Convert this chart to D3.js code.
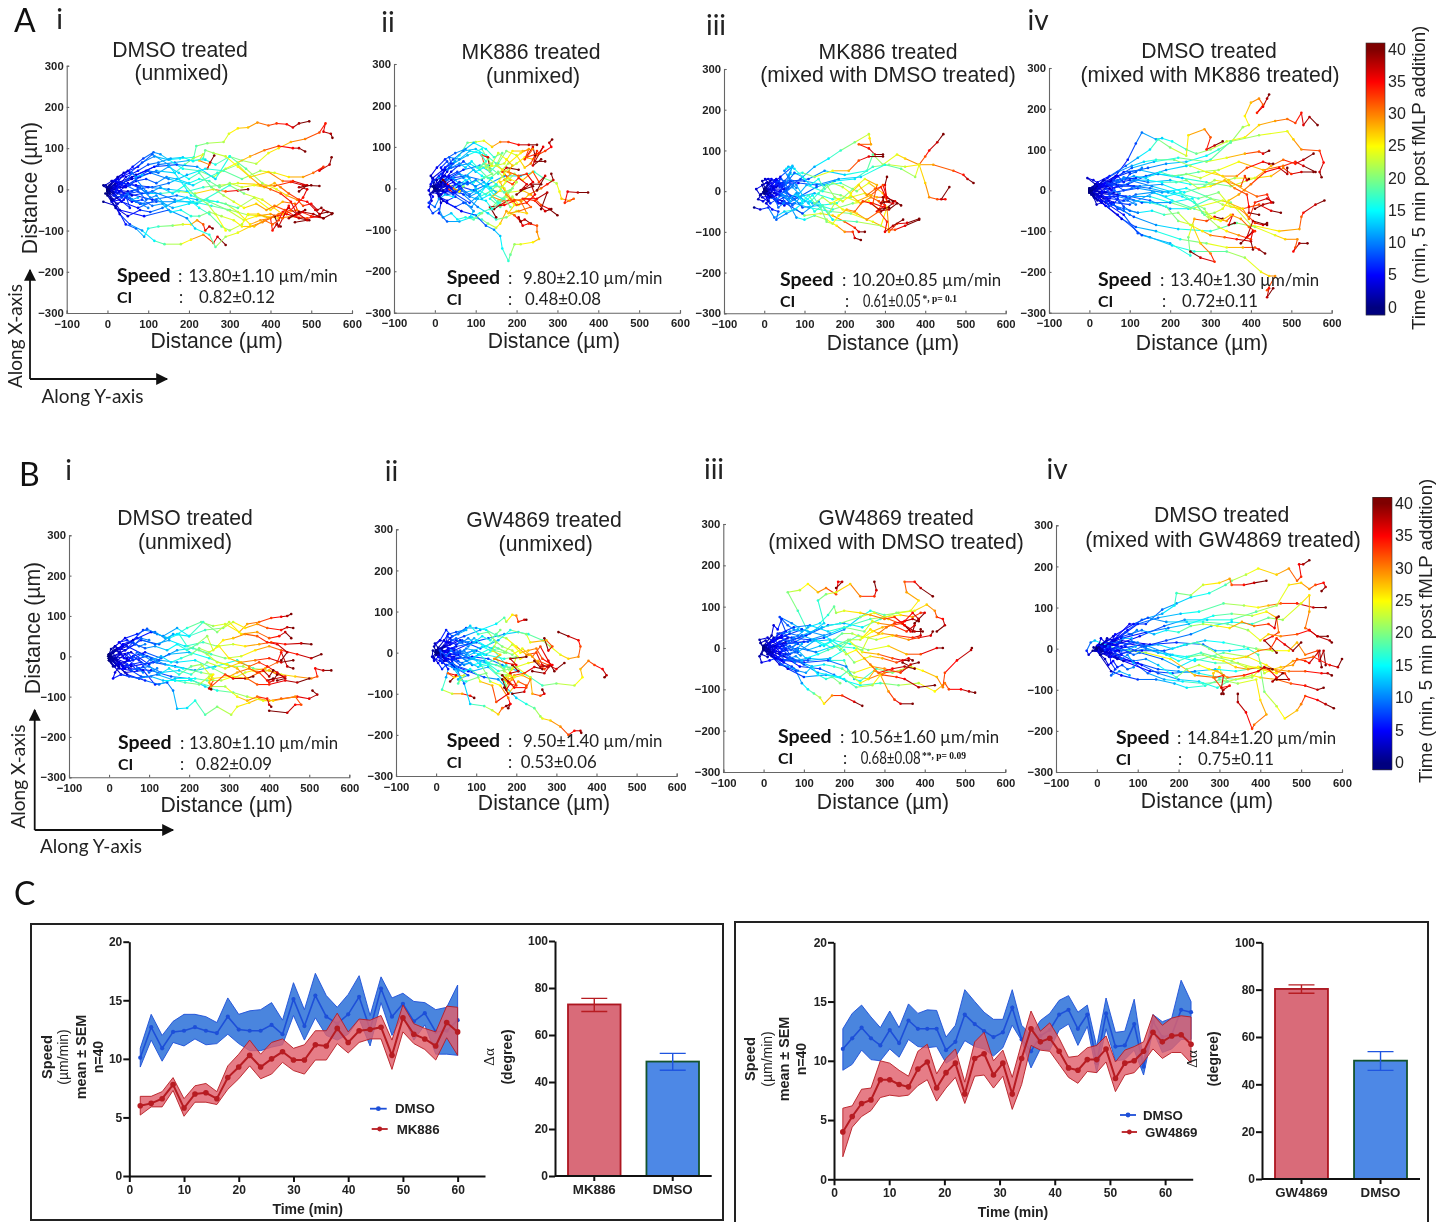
<!DOCTYPE html>
<html>
<head>
<meta charset="utf-8">
<script src="https://cdn.jsdelivr.net/npm/d3@7"></script>
<style>
  html, body { margin: 0; background: #fff; }
  svg { display: block; filter: blur(0.5px); }
  .arial { font-family: "Liberation Sans", Arial, sans-serif; }
  .calibri { font-family: Lato, "Open Sans", sans-serif; }
</style>
</head>
<body>
<div id="figure"></div>
<script>
// track data: [end time, x0, y0, x1, y1, ...] in um
const tracksAi = [
  [40,0,0,18,12,38,32,62,55,88,75,113,90,130,85,150,72,178,75,212,78,218,105,245,112,285,115,298,135,320,148,345,150,368,162,395,155,415,160,440,158,455,150,470,160,495,165],
  [40,0,0,30,18,60,30,95,45,125,60,165,65,200,70,240,72,265,60,300,80,330,70,365,62,395,88,420,100,450,115,485,122,520,138,535,160,530,140,548,135,552,125],
  [40,0,5,25,25,55,40,85,65,115,80,150,72,185,50,225,45,260,30,290,50,320,65,350,80,385,95,420,105,455,100,470,100,485,92],
  [40,0,0,40,5,80,30,120,45,165,40,190,60,210,75,235,85,225,70,250,60,245,50,252,65,262,82],
  [40,0,-5,35,15,70,10,110,5,150,15,195,35,240,50,285,45,330,25,375,45,410,40,445,30,480,30,505,40,530,55,520,45,545,60,550,78],
  [40,5,0,50,-5,100,5,150,0,195,-5,235,5,275,10,320,15,370,12,410,8,450,18,480,10,520,8],
  [40,0,0,45,10,85,-10,130,-10,175,-5,215,-10,260,0,290,-5,320,-3,345,0],
  [40,0,0,40,-15,80,-35,120,-30,165,-30,210,-30,255,-40,300,-50,345,-62,385,-65,420,-70,455,-65,490,-70,520,-65,530,-50,552,-58],
  [40,0,-5,35,-30,75,-45,120,-25,160,-45,200,-35,245,-25,290,-35,320,-55,350,-85,375,-75,400,-70,405,-100,415,-85,425,-90],
  [40,-10,-30,20,-40,45,-85,70,-95,90,-115,100,-95,125,-90,160,-88,185,-85,205,-85,220,-75,235,-85,240,-100,250,-90,258,-95],
  [40,0,-10,30,-60,55,-85,85,-100,115,-125,140,-133,180,-133,205,-122,235,-110,260,-130,270,-115,290,-135],
  [40,5,-10,30,-50,90,-65,150,-50,195,-70,215,-95,250,-110,265,-140,290,-115,320,-105,350,-90,380,-80,410,-65,440,-60,470,-70,495,-75],
  [40,0,-5,50,-10,110,-25,170,-15,220,-25,270,-30,320,-45,360,-20,400,-50,430,-30,460,-35,470,-60,490,-75,460,-80],
  [40,5,5,60,-15,110,-5,165,-25,220,-35,300,10,335,-10,380,-25,430,-60,465,-50,500,-65,530,-70,550,-60],
  [40,10,0,70,35,115,55,170,60,220,55,265,25,300,80,340,50,380,15,415,0,440,-15,465,-25,480,-40,500,-35,515,-50,525,-45],
  [40,0,0,60,25,105,40,150,25,210,10,270,40,320,60,350,30,395,42,430,20,455,20,490,10,470,-5],
  [40,0,5,40,40,75,55,110,85,150,60,205,-15,250,-30,295,-50,335,-75,365,-65,400,-60,430,-70,445,-40,420,-90,410,-65],
  [40,0,0,20,15,45,5,70,20,95,25,120,15,145,30,170,25,200,15,225,25,250,20,275,5,300,15,330,5,360,10,385,5,410,15,425,5,445,-10,470,-25,490,-30,510,-50,520,-60,540,-55],
  [40,-5,-10,15,-25,35,-15,60,-30,85,-25,110,-40,135,-35,155,-55,180,-50,205,-65,225,-65,250,-55,280,-65,310,-75,330,-90,360,-90,385,-75,405,-85,420,-75,430,-55,445,-45,465,-60,485,-50],
  [40,5,10,25,30,50,45,75,30,100,45,125,40,150,55,175,40,200,25,225,40,255,5,285,-15,310,-30,335,-45,365,-35,390,-50,410,-40,435,-50,460,-65,480,-55,505,-60,530,-70],
  [40,0,-15,20,-45,50,-65,80,-50,105,-55,135,-45,165,-30,195,-20,225,-45,250,-60,280,-90,300,-100,330,-85,345,-60,370,-60,395,-70,420,-60,450,-50,480,-20,490,0,470,5,500,10],
  [25,5,0,25,-10,50,15,75,5,100,-10,130,5,160,-10,190,10,215,-15,245,-35,265,-60,290,-100],
  [40,0,5,25,5,45,30,75,45,100,60,125,65,155,75,185,78,210,68,235,75,240,95,260,88,290,80,320,55,350,30,375,10,400,0,425,-10,450,-30,465,-60,445,-70,470,-55],
  [10,0,0,15,-10,25,-20,10,-30,30,-25,55,-45,45,-15,70,-30,100,-45],
  [10,-5,10,15,0,30,5,20,20,40,15,55,10,70,25,95,-5],
  [10,5,-5,20,-15,10,-2,25,10,40,-10,60,-5,80,5,105,-20],
  [10,-10,10,5,5,12,20,30,15,20,-5,35,-15,60,-25,90,-35],
  [12,0,0,10,-25,25,-35,40,-25,55,-10,75,-5,95,-25,120,-15,145,-40],
  [12,0,0,8,12,20,8,28,-5,15,-15,35,-20,50,-10,60,-25,75,-20],
  [12,0,0,-8,8,10,20,25,25,35,12,50,25,60,40,70,30,85,35]
];
const tracksAii = [
  [40,0,0,-5,15,10,30,35,50,50,65,30,45,60,80,80,110,100,112,120,115,140,100,160,112,180,112,205,105,230,105,250,105],
  [40,0,-5,15,25,25,50,45,70,70,90,100,95,125,80,150,60,170,40,200,60,220,75,240,70,250,80,270,90,285,100,280,110,287,118],
  [40,0,0,25,-10,60,5,95,-5,130,10,170,30,210,30,243,40,265,25,285,18,298,12,305,-8,310,-25,330,-30,340,-25,318,-35,325,-8,350,-10,375,-10],
  [40,0,0,30,-15,60,-10,100,-25,140,-5,180,-10,215,-5,235,-15,260,-40,280,-50,300,-65],
  [40,5,-5,15,-35,10,-60,30,-80,60,-80,90,-70,115,-75,130,-85,150,-95,160,-85,175,-55,195,-65,210,-80,220,-75,235,-85],
  [40,0,0,20,-30,65,-55,100,-65,125,-90,145,-100,160,-115,165,-145,180,-175,185,-160,195,-135,210,-135,240,-130,255,-122,250,-105,250,-90,230,-85,215,-90,205,-70,210,-80],
  [40,5,0,15,5,20,15,10,25,25,10,40,5,55,-5,30,0,45,-10,62,-5],
  [40,0,5,30,40,45,60,80,80,115,95,130,70,140,55,120,60,115,80,130,75,135,45],
  [40,5,5,25,45,60,55,85,60,110,45,130,25,150,10,170,35,185,20,165,40,175,50,205,45],
  [40,0,0,40,25,75,30,115,20,150,-10,135,-25,160,-45,190,-20,205,-40,230,-15,260,0,275,10,290,20,285,35],
  [40,5,-5,45,-10,85,-35,110,-15,125,5,165,5,195,35,215,20,240,40,255,15,270,30,250,-5],
  [40,0,0,30,5,70,-15,105,-45,130,-60,150,-75,175,-70,200,-55,225,-60,210,-30,185,-25,160,-40,145,-50],
  [40,0,-5,35,25,70,45,110,55,135,40,155,60,175,90,200,80,220,50,235,60,250,90,240,55,260,70],
  [40,0,5,25,30,50,20,80,30,100,0,125,-15,150,5,170,0,190,-30,220,-25,245,-30,270,-55,285,-50],
  [40,5,0,40,40,70,65,100,40,130,55,155,35,180,60,210,85,230,95,220,70,240,100,245,80],
  [40,0,0,15,-15,30,0,50,10,40,25,60,35,85,25,70,10,95,15,120,25,140,35,125,50,150,55,165,45,185,35,170,20,190,10,205,25,225,10,210,-5,240,5],
  [40,5,0,-5,25,20,45,40,60,35,75,60,70,85,90,110,85,125,65,110,50,140,60,155,85,175,70,190,55,180,40,205,30,225,35,240,15,220,0,200,-15],
  [40,0,-5,10,-20,30,-30,50,-20,75,-35,95,-55,85,-70,110,-60,135,-50,155,-30,175,-20,195,-40,180,-60,205,-55,235,-45,215,-25,250,-25,275,-10,260,-50],
  [40,0,5,-10,30,5,50,25,70,50,85,75,95,95,110,125,95,145,75,165,85,150,55,170,60,190,90,215,90,240,95,225,75,255,85,265,100,245,65,270,65],
  [40,10,-5,25,5,45,15,65,-5,85,-20,105,-10,125,5,145,-15,165,-25,185,-5,200,15,180,25,160,15,175,-15,200,-40,225,-35,245,-15,235,10,260,10],
  [40,0,0,15,10,35,30,55,40,70,25,95,45,115,30,135,25,155,40,175,20,160,-5,140,-20,165,-30,195,-30,170,-40,135,-45,150,-70],
  [40,15,15,30,5,45,-5,55,10,70,5,60,-8,45,0,30,10,20,20],
  [14,0,0,-10,5,-15,-5,-5,-20,-15,-35,0,-45,10,-25,25,-15,45,-20],
  [14,0,0,10,10,-5,25,-10,10,15,35,30,20,45,25,60,10,75,20],
  [14,5,0,-5,-10,15,-15,30,-5,45,-15,60,0,75,-10,90,-5,110,-15],
  [14,-5,5,10,-5,25,10,40,0,60,15,80,10,100,20,120,5,140,25],
  [18,0,0,15,-25,30,-35,50,-45,70,-35,90,-45,105,-25,125,-30,140,-50,160,-35],
  [20,0,0,-12,-15,-8,-30,-15,-45,-5,-60,10,-50,20,-70,40,-60,55,-75,75,-70,95,-75,115,-60],
  [20,0,0,5,20,20,30,15,50,30,65,40,50,60,60,75,50,90,65,105,50,120,60,135,45],
  [20,5,0,20,-5,35,5,50,-10,65,0,85,-15,100,-5,115,-25,135,-15,155,-35,170,-25,185,-45],
  [20,0,0,25,10,40,20,60,5,80,15,100,5,120,15,135,0,150,10,170,-10,190,0]
];
const tracksAiii = [
  [40,0,0,25,-5,60,10,90,30,125,60,160,80,190,100,225,120,260,140,262,130,265,115,235,115,260,105,275,90,295,90],
  [40,0,0,30,10,70,25,110,30,150,50,200,40,255,50,270,90,295,65,330,90,350,80,385,65,400,85,410,100,430,120,445,140],
  [40,5,5,40,-10,85,-15,130,10,175,25,225,30,270,60,310,65,350,60,385,65,420,65,470,50,495,40,505,30,520,20],
  [40,0,0,35,20,85,20,130,15,185,30,240,35,300,65,340,55,375,35,385,65,400,20,410,-15,430,-20,450,-20,440,-20,460,10],
  [40,0,-5,40,-30,75,-30,110,-40,165,-50,215,-55,270,-75,310,-95,325,-95,350,-85,385,-70],
  [40,0,0,30,-20,60,-30,80,-65,100,-70,125,-60,155,-70,180,-85,200,-100,220,-100,225,-115,240,-120],
  [40,-25,-40,-10,-45,10,-40,25,-65,50,-50,80,-45,100,-60,140,-55,170,-60,200,-75,225,-90,235,-100,250,-100],
  [40,0,5,40,0,80,-15,125,-5,170,-20,215,-15,250,-5,280,-15,300,-15,325,-25,340,-35],
  [40,5,-5,50,25,100,25,150,15,190,20,230,0,260,20,295,-5,305,-25,300,15,305,35],
  [40,0,0,40,35,70,60,60,40,95,45,125,35,170,50,210,50,235,75,260,85,295,85],
  [40,0,-5,50,-35,85,-15,120,-30,170,-45,220,-30,260,-25,285,-45,295,-25,320,-30,290,-50],
  [40,5,0,45,-25,95,-55,135,-25,170,-70,230,-75,290,-85,305,-40,310,-100,330,-80,355,-78,385,-68],
  [40,0,0,35,15,75,-20,105,15,145,0,190,-10,230,-25,265,-10,295,15,305,-15,320,-25],
  [40,0,5,50,5,95,-40,135,-35,180,-30,220,5,250,30,280,15,270,-30,300,-40,295,-15],
  [40,0,0,10,15,25,25,45,20,60,35,80,15,95,-10,115,-25,135,-5,155,15,175,-15,195,-25,215,-10,240,-30,265,-15,285,-25,300,-35,280,-50,310,-45,330,-30],
  [40,0,-5,15,-10,30,-25,50,-15,70,-35,90,-15,110,-30,125,-50,145,-35,160,-55,175,-30,195,-45,230,-55,255,-70,285,-50,305,-75,300,-100,320,-85,345,-70],
  [40,5,0,25,10,40,30,55,20,75,45,95,35,115,15,135,30,150,5,170,20,195,10,215,-5,235,15,255,-10,275,5,290,10,300,-10,290,-30,310,-25],
  [40,0,0,20,-15,40,-5,60,-20,80,-5,100,-25,120,-10,140,-40,155,-75,170,-80,185,-60,205,-45,225,-50,245,-25,265,-30,285,-45,310,-40],
  [25,0,0,12,-8,25,5,38,-12,50,0,62,-18,78,-8,95,-25,110,-10,125,-30,145,-15,165,-30,185,-20],
  [16,0,0,15,25,30,30,45,10,65,25,50,50,60,60,75,55,100,30],
  [12,0,0,-10,-10,-20,5,5,20,20,5,10,-15,30,-20,45,-10,65,-25],
  [12,5,0,-5,25,10,30,25,10,35,25,50,15,55,0,70,10,85,-5],
  [12,0,-5,10,-25,-5,-15,20,-10,35,-30,50,-25,40,-5,70,-20,90,-30],
  [14,0,0,15,-15,5,-30,20,-45,35,-50,30,-70,55,-55,75,-45,95,-30],
  [10,0,0,-5,15,8,22,18,12,30,28,38,10,50,22,60,5,72,15],
  [10,0,0,-8,-8,-15,-20,-3,-25,10,-15,15,-30,28,-22,35,-40,48,-30],
  [10,0,0,5,8,15,-5,22,8,30,-10,40,0,45,15,55,5,65,18,80,8],
  [14,0,5,10,20,2,30,18,30,30,20,42,30,55,20,65,45,70,62,55,55]
];
const tracksAiv = [
  [40,0,0,30,10,60,30,100,45,145,55,190,65,240,70,290,85,320,100,350,117,380,155,395,160,385,182,400,215,420,225,430,210,415,190,430,205,440,225,445,235],
  [40,0,0,30,15,65,35,95,75,115,115,130,142,165,125,180,128,205,120,240,100,265,90,300,100,340,120,385,130,420,160,460,170,490,175,510,165,525,190,530,160,545,180,565,160],
  [40,0,0,20,20,50,35,90,60,120,80,150,100,170,125,200,105,240,85,245,135,285,150,300,130,290,100,310,110,330,120],
  [40,5,-5,45,15,85,45,125,50,170,40,220,35,270,45,320,50,370,70,430,50,480,60,510,70,530,60,560,45],
  [40,0,0,50,5,95,15,140,35,190,50,240,60,300,75,350,120,420,135,490,145,505,125,525,100,570,97,580,68,570,45,575,32],
  [40,0,-5,50,-10,100,-15,150,-25,200,-45,245,-45,300,-20,350,-30,400,-85,470,-100,520,-95,525,-65,530,-55,560,-35,582,-25],
  [40,5,-5,35,-20,75,-45,110,-65,165,-85,220,-95,300,-100,365,-80,410,-90,460,-110,485,-120,515,-120,510,-140,505,-150,520,-130,540,-130],
  [40,0,0,40,-30,85,-60,120,-105,150,-115,205,-135,260,-150,340,-150,385,-165,425,-200,445,-210,460,-210,440,-245,445,-240,440,-262,455,-240],
  [40,5,-10,70,-60,130,-110,200,-130,250,-160,245,-115,255,-85,260,-70,290,-75,310,-65,330,-70],
  [40,0,0,40,-5,90,-15,150,-15,200,-30,250,-45,330,-25,380,-45,420,-35,450,-50,474,-55],
  [40,0,0,55,25,105,55,160,70,220,80,290,70,340,80,385,90,420,95,430,90,445,97],
  [40,0,0,45,10,95,30,145,20,200,25,250,15,310,15,360,30,410,30,450,60,480,75,510,65,530,75,555,90],
  [40,5,5,60,25,115,30,170,40,230,30,290,20,350,10,410,30,450,35,480,55,500,40,525,45,555,45],
  [40,0,-5,80,-70,115,-90,165,-100,225,-120,290,-130,340,-140,380,-140,410,-140,420,-145,435,-155],
  [40,0,0,60,-5,120,5,180,-5,240,5,290,-15,330,-35,370,-45,390,-60,410,-80,430,-85,440,-80],
  [40,0,5,50,15,100,25,155,10,210,-5,270,-20,320,-5,350,-40,380,-45,395,-70,410,-30,440,-20,455,-30],
  [40,5,0,70,-10,130,-30,200,-30,255,-20,280,-55,320,-90,340,-100,370,-110,400,-120,405,-100,375,-130],
  [40,0,0,65,15,125,10,180,15,235,-5,285,10,310,25,345,20,375,10,385,35,390,25,395,28],
  [40,0,0,60,-30,100,-35,160,-5,205,-25,260,-45,290,-55,310,-70,340,-75,355,-60,345,-85,360,-80],
  [40,0,0,15,5,35,15,55,10,80,25,110,35,140,30,175,45,205,35,240,40,275,30,310,45,345,25,385,0,415,-15,440,-10,450,-30,430,-35,410,-45],
  [40,0,0,20,-10,50,-20,85,-25,115,-10,155,-5,190,-15,225,-5,265,-35,285,-45,295,-65,325,-75,350,-60,375,-70,395,-90,410,-100,390,-115,405,-75,440,-85],
  [40,5,-5,30,-25,55,-35,85,-45,120,-55,155,-50,185,-60,220,-55,250,-85,280,-100,300,-110,335,-115,365,-120,400,-125,405,-145],
  [40,0,0,30,-15,70,-15,110,-25,150,-30,190,-40,220,-75,255,-85,275,-130,300,-155,310,-175,275,-165,250,-150],
  [40,0,0,25,5,50,15,80,10,110,25,145,25,180,20,215,20,240,25,270,5,300,10,335,25,360,5,390,-10,395,-40,395,-55,420,-60],
  [40,0,5,25,15,45,30,70,45,105,60,135,70,165,75,210,75,250,60,290,45,330,35,365,35,390,55,430,70,445,65,455,65],
  [40,0,0,35,-5,70,10,110,10,150,5,195,-5,230,-15,260,-30,285,-60,310,-55,330,-45,345,-25,370,-10,400,15,435,45,470,55,490,40,490,55],
  [10,0,0,15,15,-5,30,10,25,25,15,35,25,50,15,70,25,90,30],
  [10,0,0,10,-10,20,-25,30,-10,45,-20,60,-15,75,-30,95,-25,115,-35],
  [10,0,-5,15,5,25,-5,40,5,55,0,70,10,85,0,105,5,125,10],
  [10,5,0,15,-20,30,-30,45,-25,60,-35,70,-20,85,-40,100,-50,120,-55],
  [10,0,0,20,10,35,25,55,20,70,35,85,20,100,40,115,45,130,55],
  [10,0,0,8,8,15,-2,25,10,32,-5,42,5,50,-10,62,0,75,-8],
  [10,0,0,5,-10,12,-18,25,-15,30,-28,42,-25,48,-40,60,-35,75,-45],
  [10,0,0,10,3,18,15,28,8,38,18,50,12,60,25,72,20,85,32],
  [10,0,-5,10,-15,18,-35,30,-30,40,-38,55,-30,70,-45,85,-50,100,-60]
];
const tracksBi = [
  [40,0,0,25,20,55,35,85,65,115,60,140,45,170,55,195,70,230,85,260,75,290,80,325,60,345,80,375,85,405,95,430,98,445,100,455,105],
  [40,0,-5,40,15,80,40,125,30,160,55,200,50,240,65,285,70,310,85,340,70,370,80,395,70,430,65,445,72,460,70],
  [40,0,0,35,30,70,45,115,30,150,40,190,25,235,35,270,25,310,30,340,25,375,30,405,35,440,30,480,32,505,30],
  [40,0,0,45,-5,90,10,130,-5,170,15,210,20,255,5,290,-5,330,0,365,15,400,25,430,15,470,5,505,-5,530,5],
  [40,5,-5,55,-25,110,-15,165,-25,215,-35,265,-25,320,-10,360,-30,400,-35,430,-45,465,-50,505,-55,520,-50,515,-30,535,-35,555,-35],
  [40,0,-5,40,-40,85,-35,115,-70,145,-65,160,-85,170,-130,195,-128,215,-110,240,-145,270,-125,305,-145,320,-125,350,-115,375,-105,400,-110,430,-105,470,-100,500,-105,520,-95,508,-85],
  [40,0,0,50,-30,105,-35,155,-50,200,-55,240,-75,270,-85,310,-90,345,-100,385,-110,410,-110,465,-100,480,-120,465,-120,445,-140,400,-135],
  [40,0,-10,30,-45,75,-55,120,-45,165,-60,205,-60,255,-75,290,-75,320,-100,345,-110,370,-100,395,-105,400,-120,405,-125],
  [40,0,0,40,-15,95,0,140,-20,185,-30,230,-40,255,-45,250,-55,260,-60,255,-70,250,-80,255,-82],
  [40,5,0,55,10,100,-20,150,5,200,10,250,-5,300,-25,335,-25,370,-40,400,-35,420,-45,440,-50,395,-60,410,-55],
  [40,0,5,45,25,85,5,125,-10,170,-15,215,-10,260,-30,310,-55,340,-40,360,-35,390,-30,420,-15,430,10,445,-25,460,-30],
  [40,0,0,35,-25,80,-15,130,-40,175,-35,205,-45,245,-15,290,-30,330,-15,365,-10,400,-5,430,-15,460,-10],
  [40,0,5,60,40,105,60,135,50,170,70,200,50,235,85,270,60,300,85,330,55,370,60,400,45,425,50,440,60,455,45],
  [40,0,-5,45,-45,90,-60,125,-70,165,-55,215,-55,245,-60,280,-60,310,-50,345,-55,375,-40,400,-65,410,-60,420,-45],
  [40,0,0,20,-10,40,5,60,-10,80,5,105,-10,130,0,155,-15,180,-5,205,5,225,20,250,10,275,25,300,-5,325,-15,350,-25,375,-15,395,-25,420,-40,440,-55,420,-60],
  [40,0,5,20,20,40,15,65,30,90,20,115,25,145,15,170,30,195,15,220,30,245,50,260,15,285,40,310,45,340,55,370,50,395,35,420,30,445,10,430,-10],
  [40,0,-5,25,-20,50,-10,75,-30,100,-25,125,-45,150,-30,175,-45,205,-25,230,-20,260,-55,300,-50,320,-40,350,-30,370,-40,385,-35,400,-50,410,-35],
  [40,5,-5,25,-30,55,-35,80,-50,105,-50,135,-60,165,-60,190,-65,225,-70,250,-50,260,-45,250,-65,255,-75,290,-45,310,-55,340,-55,360,-50],
  [40,0,0,15,25,40,45,70,55,95,68,120,55,150,45,175,55,195,25,225,15,245,5,270,-15,295,-20,320,-30,345,-55,370,-70,400,-70,440,-60,470,-65,500,-55],
  [10,0,0,10,-10,25,-25,15,-40,10,-55,30,-45,50,-50,75,-55,95,-50],
  [10,0,5,15,15,25,10,35,25,25,35,45,40,65,30,80,45,100,40],
  [10,-2,0,15,-5,30,5,45,-10,60,0,75,-10,90,-20,105,-5,120,-15],
  [10,0,-10,10,-25,25,-15,40,-30,55,-20,70,-35,85,-25,100,-40,120,-30],
  [10,0,0,5,-15,15,-25,25,-15,35,-30,45,-20,55,-35,70,-30,85,-40],
  [10,0,0,10,8,18,-5,28,10,38,-5,48,8,58,-5,70,10,85,0],
  [10,0,5,5,18,15,25,25,18,35,30,48,22,60,35,75,25,90,30]
];
const tracksBii = [
  [40,0,0,30,25,70,40,110,55,150,70,170,85,175,75,190,92,200,90,205,75,220,80,225,80],
  [40,5,0,40,-30,80,-45,120,-60,155,-65,200,-110,225,-125,245,-135,260,-155,265,-160,285,-165,310,-180,330,-200,345,-190,360,-190,362,-195],
  [40,0,0,50,-15,90,-10,130,-15,165,-30,205,-45,235,-60,265,-80,300,-75,345,-80,365,-60,360,-40,380,-20,395,-30,415,-40,425,-55,420,-60],
  [40,0,5,45,5,90,25,130,35,170,45,205,50,230,45,265,30,285,15,310,-5,330,-15,355,-10,360,15,355,30,330,40,305,50],
  [40,5,-5,30,-40,25,-60,15,-90,40,-100,65,-100,85,-105,95,-110],
  [40,0,0,40,-20,70,-75,85,-125,120,-130,140,-140,155,-150,165,-135,185,-125,180,-135],
  [40,0,0,45,-30,90,-45,130,-35,170,-70,175,-80,180,-100,205,-70,225,-80,220,-95,190,-100],
  [40,0,-5,40,5,85,-15,125,-25,170,-35,200,-35,235,-60,240,-100,260,-105,270,-100,265,-90],
  [40,5,0,50,15,100,25,140,10,175,-30,185,-50,175,-70,195,-55,220,-50,245,-35,265,-40],
  [40,0,0,35,35,75,60,100,60,125,55,155,40,175,35,200,15,225,-5,250,0,265,-30,280,-35],
  [40,5,5,60,30,110,10,155,30,185,55,225,45,235,25,275,30,290,15,280,5,270,35],
  [40,0,-5,45,-10,90,-15,120,-20,155,-45,185,-40,230,-25,255,-20,280,-30,300,-40,320,-25],
  [40,0,5,50,-5,100,5,125,-5,170,-15,200,-10,190,-40,170,-65,185,-75,175,-90,165,-65],
  [40,5,-5,55,-5,90,-30,110,-25,135,-70,160,-80,180,-110,185,-125,175,-130],
  [40,0,0,30,-15,65,-25,105,-5,145,15,190,-5,215,10,240,-10,260,15,280,-20,295,-45],
  [40,0,0,45,-35,80,-55,55,-65,75,-70,105,-60,110,-70,140,-80,150,-120,180,-100,170,-85],
  [40,0,0,15,-5,30,10,50,-5,70,5,90,-15,110,-5,130,-25,150,-15,170,-45,185,-55,170,-60,190,-65,180,-75,200,-80,185,-50,205,-45,190,-30],
  [40,5,0,20,15,40,10,60,25,80,15,100,30,125,15,145,30,165,15,190,5,210,-15,235,-5,255,-25,270,-40,285,-30,270,-50,240,-45],
  [40,0,-5,20,-20,40,-15,60,-30,85,-25,105,-35,130,-30,150,-50,175,-55,195,-60,215,-55,235,-65,225,-85,195,-85,180,-70,165,-55],
  [40,0,0,15,5,35,-5,55,0,75,-10,95,0,120,-5,145,5,170,0,190,20,210,0,230,5,250,10,265,-15,290,-30,260,-35,245,-20],
  [40,0,5,20,30,30,45,50,50,70,55,85,65,105,45,130,50,150,25,140,5,160,-5,145,-15,175,-25,200,-30,185,-15,225,-10],
  [40,0,0,25,-15,45,-40,60,-60,55,-75,70,-55,45,-60,30,-50,50,-55,35,-70],
  [12,0,0,-8,-10,5,-25,15,-40,25,-30,40,-35,55,-45],
  [12,0,0,-5,15,10,30,25,55,40,40,55,45,75,55],
  [12,0,0,10,10,20,-5,30,10,45,0,60,5,75,-5,90,5],
  [12,0,0,15,-10,25,-20,40,-15,55,-20,70,-30,85,-25],
  [12,0,5,20,15,35,25,50,20,65,30,80,25,95,35],
  [20,0,0,15,-10,30,-5,45,-15,60,-10,75,-20,95,-15,110,-30,130,-25,150,-30,170,-40],
  [20,0,0,15,5,30,0,45,10,60,0,75,10,95,5,115,15,135,5,155,10,175,0],
  [20,5,0,20,15,35,20,50,30,65,25,80,35,95,25,115,40,135,30,150,45,160,55],
  [20,0,0,-5,-15,10,-20,25,-30,40,-25,55,-40,70,-45,85,-40,105,-55,125,-50],
  [10,0,0,-8,5,-10,-10,-5,-20,5,-10,15,-25,10,5,25,-8,38,5],
  [10,0,0,5,12,-3,22,10,30,25,25,28,40,38,30,50,35,60,25]
];
const tracksBiii = [
  [40,0,0,30,20,55,40,40,75,70,60,95,45,110,40,85,90,60,135,90,140,110,155,135,135,155,145,180,130,185,160,195,160,180,145],
  [40,0,5,35,25,80,15,115,35,150,60,135,115,155,130,180,135,215,155,240,125,275,125,280,140,275,160],
  [40,0,-5,55,15,105,30,160,55,200,60,245,50,290,70,330,85,365,90,385,115,355,135,350,160,375,160,390,145,420,125],
  [40,0,0,45,10,100,15,150,25,200,45,240,75,265,90,300,80,335,85,375,90,405,105,425,90,430,75,445,70,450,55,430,40],
  [40,5,0,60,25,115,20,165,35,215,55,265,70,300,75,340,80,370,75,390,85,400,85,385,70],
  [40,0,0,40,-15,75,-30,115,-25,165,-30,200,-30,215,-65,230,-70,260,-75,300,-60,340,-55,365,-45,345,-35],
  [40,0,0,50,-20,90,-45,140,-50,175,-65,205,-80,240,-90,290,-85,335,-90,385,-85,425,-105,445,-90,450,-85,460,-100,490,-100,510,-105,525,-108],
  [40,5,-5,40,-40,80,-55,95,-85,110,-100,125,-110,140,-120,150,-135,170,-115,195,-115,225,-130,245,-140],
  [40,0,-5,60,-50,100,-70,155,-65,200,-75,230,-95,270,-90,290,-65,310,-105,325,-125,340,-135,370,-135],
  [40,0,0,50,-30,100,-35,160,-30,205,-45,225,-75,240,-80,280,-50,320,-60,365,-45,395,-55,430,-70,445,-95,450,-60,480,-30,515,-5,517,0],
  [40,5,5,55,10,110,15,165,20,215,10,260,-5,310,5,355,-15,390,-15,430,0,445,0],
  [40,0,-5,45,5,85,-10,130,20,170,0,210,20,245,-10,285,-15,320,-25,345,-30,360,-30],
  [40,0,5,55,30,95,45,150,30,190,5,235,30,280,20,320,30,360,20,385,25,415,30,420,40],
  [40,5,0,40,-10,85,0,130,-10,175,5,225,0,245,-5,260,25,295,35,330,30,370,25,390,30,390,45],
  [40,0,0,45,-30,110,-30,165,-25,200,-5,225,-35,265,-20,295,-25,330,-35,360,-25,370,-30],
  [40,0,0,40,35,75,50,115,55,160,40,200,50,250,40,270,65,285,60,320,55,355,40,375,55,370,40],
  [40,5,0,55,-15,100,-40,135,-60,190,-70,210,-55,225,-60,270,-45,300,-50,340,-60,365,-40,385,-35],
  [40,0,0,50,5,95,30,145,50,190,60,240,75,275,85,310,70,350,55,365,40,345,60],
  [40,0,0,20,-15,40,0,60,-15,85,-5,105,-25,135,-15,160,-5,185,5,205,-15,230,-5,250,-25,265,-40,285,-60,320,-50,350,-45,375,-50],
  [40,0,5,25,15,45,30,70,25,95,30,125,20,150,5,175,20,195,35,220,35,245,25,265,45,285,35,305,50,325,60,350,65,370,70,385,65],
  [40,5,0,20,-20,45,-30,70,-25,95,-35,120,-45,150,-40,175,-45,195,-50,215,-65,240,-85,260,-75,275,-55,295,-65,330,-70,350,-75,385,-95,425,-90],
  [40,0,-5,30,5,55,-5,85,10,110,-5,140,5,165,15,190,-5,215,20,240,20,270,40,295,50,320,55,345,60,370,85,385,70,375,60],
  [40,0,0,25,25,45,25,65,35,85,30,110,50,140,60,160,80,175,100,180,85,200,90,240,85,265,80,300,70,325,75,350,55,375,40,395,40],
  [12,0,0,-10,-20,-5,-35,15,-30,30,-25,45,-40,60,-45,75,-50],
  [12,0,0,-10,20,10,25,25,15,35,35,50,35,65,40,85,45],
  [12,0,0,15,10,25,-5,40,15,50,0,65,5,80,-5,95,10],
  [12,0,0,10,-15,25,-5,35,-25,50,-15,65,-25,80,-20,95,-30],
  [12,0,5,20,30,25,55,35,45,45,70,60,55,75,45,95,40],
  [10,0,0,8,-8,15,8,25,-5,35,10,45,-5,55,8,68,-5,80,10],
  [10,0,0,-8,12,5,18,15,8,25,20,38,10,50,20,62,15,75,25],
  [10,0,-3,-5,-15,10,-22,20,-12,30,-25,42,-18,52,-30,65,-25,78,-35],
  [10,0,0,12,-3,22,-12,32,0,42,-12,55,-2,65,-15,78,-10,92,-18],
  [20,0,0,15,-10,30,-25,50,-35,70,-45,85,-55,105,-60,120,-45,135,-65,155,-75,170,-70,190,-85]
];
const tracksBiv = [
  [40,0,0,40,20,80,60,120,60,160,95,195,110,230,125,275,135,315,155,330,165,365,180,395,195,440,180,470,195,490,165,500,175,495,205,505,205,520,215],
  [40,0,0,35,15,75,45,110,70,160,85,190,105,195,135,230,130,260,155,300,160,325,170,330,155,360,155,385,160,415,165],
  [40,0,-5,45,20,100,60,150,75,205,85,250,90,310,110,360,105,395,100,420,105,450,110,490,110,530,100,560,100],
  [40,5,0,50,10,105,30,165,55,215,70,270,70,330,70,390,90,440,105,470,155,500,160,520,145,535,155,555,160,560,150,550,140],
  [40,0,0,60,15,115,5,170,20,230,35,280,55,330,65,380,60,420,75,455,70,500,110,520,130,520,90,510,50,520,45,540,30,570,20,575,15],
  [40,0,0,55,-5,110,-5,165,-5,220,10,265,20,310,15,360,5,390,0,430,-5,470,-5,490,15,510,-15,540,-5,545,-30,555,-5,560,-40],
  [40,0,-5,50,-25,100,-35,150,-50,200,-55,250,-60,300,-70,340,-75,380,-70,400,-50,430,-50,470,-55,510,-55,550,-60,565,-60,575,-65],
  [40,5,0,45,-20,85,-30,125,-60,165,-75,210,-80,260,-85,320,-80,380,-65,400,-70,440,-75,475,-85,510,-90,540,-100,555,-95],
  [40,0,-5,35,-55,60,-65,100,-75,145,-75,190,-85,220,-95,265,-90,300,-75,345,-85,390,-75,400,-125,415,-160,385,-185,380,-195,365,-155,345,-130,345,-110],
  [40,0,0,55,-20,110,-40,150,-60,200,-75,250,-80,295,-95,320,-80,305,-60,300,-45,285,-60,285,-70,305,-95,325,-90,310,-100,305,-110],
  [40,0,0,65,-30,130,-55,185,-60,240,-55,290,-50,340,-55,400,-45,410,-105,440,-140,460,-170,490,-150,500,-135,510,-115,540,-125,560,-135,580,-145],
  [40,5,0,60,25,120,40,175,50,225,60,285,80,330,85,380,80,415,90,440,75,445,40,430,30,410,20,440,-10],
  [40,0,5,50,0,115,10,180,-15,240,-30,310,-10,370,-20,415,-40,440,-55,460,-60,470,-75,440,-75],
  [40,0,0,60,20,130,10,195,15,260,10,290,-5,325,-5,370,0,395,-15,400,-35,410,-60,430,-50,450,-45,480,-40,490,-25,510,-30,520,-35,545,-5,550,-45],
  [40,0,0,40,30,90,60,125,75,170,65,220,65,260,65,320,60,370,45,400,20,420,35,450,30,490,35,520,45,540,30,565,30],
  [40,0,0,50,-15,90,-5,160,-25,200,-45,240,-25,290,-35,345,-35,400,-50,440,-60,480,-30,530,-20,570,-40,590,-45,600,-25],
  [40,-10,-5,-20,-15,-25,-5,-15,15,-5,20,30,5,80,-5,120,-10,180,-25,240,-65,290,-70,310,-65,305,-95,310,-110],
  [40,0,0,25,-5,50,5,80,-10,110,5,140,-5,170,-15,200,-30,225,-20,260,-15,285,-25,310,-30,340,-45,370,-50,395,-45,420,-50,440,-70,430,-80,455,-60],
  [40,0,0,30,10,60,5,90,15,120,5,150,10,185,0,215,10,245,15,275,0,305,-20,335,-25,365,-20,395,-5,425,0,440,25,460,10,480,-5,500,15],
  [40,0,-5,30,-20,60,-15,90,-30,120,-25,150,-40,180,-60,195,-70,220,-50,250,-40,275,-50,295,-55,320,-70,360,-65,395,-55,410,-45,430,-50],
  [40,0,5,25,20,50,25,80,35,110,45,140,35,170,45,200,40,230,55,260,60,295,55,325,50,355,65,385,55,420,60,435,50,440,75,445,78],
  [25,0,0,20,5,45,-5,70,5,95,-5,120,0,150,-10,185,-15,220,-20,255,-10,290,-20,330,-30,365,-45,395,-45],
  [12,0,0,5,10,10,25,20,15,35,15,50,15,65,25,85,25],
  [12,0,0,10,-5,20,5,35,-5,50,5,60,-5,80,0,95,5],
  [12,0,0,10,-15,20,-10,35,-20,45,-10,60,-25,75,-15,90,-35],
  [12,0,0,15,-5,30,-10,35,-35,45,-50,35,-65,55,-55,80,-65],
  [10,0,0,10,8,22,5,32,12,45,8,55,15,70,10,85,18,100,15],
  [10,0,0,12,-5,25,-2,35,-10,48,-5,60,-12,75,-8,90,-15,105,-10],
  [10,0,0,8,-15,20,-25,28,-40,40,-30,50,-45,62,-40,75,-50,90,-45],
  [10,0,0,15,12,25,25,38,20,45,35,60,28,70,40,85,35,98,45],
  [8,0,0,-8,3,-5,-5,5,-8,2,8,12,5,20,-3,28,6],
  [8,0,0,5,3,12,-2,18,6,25,-3,32,4,40,-4,48,2]
];

// panel C values
const timeLeft = d3.range(2, 61, 2);
const dmsoMeanL = [10.1,12.7,10.9,12.3,12.4,12.7,12.4,12.2,13.6,12.5,12.4,12.4,12.9,12.1,15.1,12.8,15.4,13.6,13.0,13.8,15.3,12.5,16.0,13.6,14.7,13.2,13.9,12.3,12.4,13.3];
const dmsoUpL = [10.9,13.8,12.0,13.2,13.8,13.8,13.6,13.1,15.2,13.8,14.1,14.2,14.8,13.3,16.5,14.2,17.3,15.4,14.4,15.5,17.1,13.7,17.0,15.2,15.6,14.9,14.8,14.2,14.4,16.3];
const dmsoLowL = [9.3,11.6,9.8,11.4,11.1,11.7,11.2,11.3,12.1,11.3,10.7,10.7,11.0,11.2,13.7,11.6,13.5,12.0,11.6,12.1,13.4,11.1,14.8,12.0,13.7,11.6,12.9,10.4,10.4,10.3];
const mkMean = [6.0,6.2,6.6,7.8,5.8,7.0,7.1,6.6,8.4,9.3,10.3,9.3,10.0,10.6,9.9,9.9,11.2,11.1,12.6,11.4,12.4,12.5,12.7,10.3,13.5,12.1,11.7,11.1,13.1,12.3];
const mkUp = [6.8,6.8,7.2,8.4,6.6,7.7,7.9,7.2,9.4,10.4,11.6,10.4,11.4,11.7,10.9,11.2,12.4,12.4,13.9,12.3,13.4,13.3,13.7,11.6,14.6,13.0,12.6,12.3,14.5,14.4];
const mkLow = [5.2,5.9,5.9,7.3,5.1,6.3,6.3,6.1,7.4,8.3,9.4,8.3,8.7,9.7,9.0,8.7,9.9,9.9,11.3,10.5,11.4,11.7,11.7,9.1,12.3,11.3,10.8,9.9,11.8,10.3];

const timeRight = [1.6,3.3,5,6.7,8.4,10.1,11.8,13.5,15.2,16.9,18.6,20.3,22,23.7,25.5,27.2,28.9,30.6,32.3,34,35.7,37.4,39.1,40.8,42.5,44.2,45.9,47.6,49.3,51,52.7,54.4,56.1,57.8,59.5,61.2,62.9,64.7];
const dmsoMeanR = [11,11.9,12.8,11.9,11.3,12.6,11.5,13.4,12.7,12.7,12.7,10.9,11.6,13.9,13.1,12.5,12,12.4,14.5,11.8,10.8,12.1,12.6,13.9,14.3,12.7,13.9,9.8,14,11.2,11.3,13.1,9.5,13.3,12,12.2,14.3,14.1];
const dmsoUpR = [12.7,14.0,14.7,13.7,12.8,14.2,12.8,14.8,14.0,14.3,14.25,12.0,13.0,16.0,15.0,14.1,13.5,13.5,16.0,13.0,12.2,13.4,14.0,15.1,15.5,14.1,14.7,11.2,15.3,12.4,12.5,15.2,10.0,13.9,13.3,13.6,16.8,15.0];
const dmsoLowR = [9.2,9.7,10.9,10.1,10.0,11.0,10.3,11.8,11.2,11.1,11.2,9.8,10.3,11.7,11.2,11.0,10.4,11.1,13.0,11.7,9.4,11,10.9,12.6,13.1,11.3,12.9,9.0,12.7,10,10.1,10.9,8.8,12.6,10.7,11,11.8,11.8];
const gwMean = [4.0,5.3,6.4,6.7,8.4,8.4,8.0,7.8,9.3,9.9,7.7,9.0,9.8,7.2,10.2,10.6,8.8,9.8,7.2,10.2,12.7,11.6,11.9,10.8,9.4,9.2,10.1,10.1,11.0,8.5,9.8,10.0,10.8,12.4,11.6,12.1,12.2,11.4];
const gwUp = [6.0,6.2,7.6,7.7,10.0,9.8,9.2,8.7,10.8,11.4,8.9,10.2,11.0,8.2,11.6,12.4,10.0,10.9,8.6,11.5,14.2,12.5,13.2,11.9,10.3,10.4,11.1,11.3,12.1,9.9,10.9,11.2,11.6,13.9,13.0,13.6,13.8,13.7];
const gwLow = [1.9,4.4,5.3,5.8,6.9,7.1,7.0,7.1,7.9,8.4,6.6,7.7,8.6,6.4,8.7,8.8,7.7,8.7,5.9,8.0,11.3,10.9,10.8,9.7,8.6,8.1,9.1,9.0,9.9,7.4,8.8,9.0,9.9,11.0,10.2,10.7,10.7,9.8];

const barNamesL = ["MK886", "DMSO"];
const barValuesL = [73, 48.7];
const barUpL = [75.6, 52.2];
const barLowL = [70, 45];
const barNamesR = ["GW4869", "DMSO"];
const barValuesR = [80.3, 50];
const barUpR = [82, 53.8];
const barLowR = [78.5, 45.9];

const trackTicksX = [-100, 0, 100, 200, 300, 400, 500, 600];
const trackTicksY = [-300, -200, -100, 0, 100, 200, 300];
const colorTicks = [0, 5, 10, 15, 20, 25, 30, 35, 40];

// layout of the track panels, in page pixels
const panels = [
  { tracks: tracksAi,   x: [66.7, 352],    y: [313, 65.7],   title: ["DMSO treated", "(unmixed)"], tx: [180, 181.5], ty: [57, 80], dx: 216.7, dy: 348,
    speed: "13.80±1.10 µm/min", ci: "0.82±0.12", sx: 117, sy: 281.7, c1: 178, v1: 188.5, c2: 179, v2: 199 },
  { tracks: tracksAii,  x: [394, 680],     y: [312.7, 64],   title: ["MK886 treated", "(unmixed)"], tx: [531, 533], ty: [58.5, 82.7], dx: 554, dy: 348,
    speed: "9.80±2.10 µm/min", ci: "0.48±0.08", sx: 446.7, sy: 284, c1: 508, v1: 523, c2: 508, v2: 525 },
  { tracks: tracksAiii, x: [724, 1005.7],  y: [313.3, 69],   title: ["MK886 treated", "(mixed with DMSO treated)"], tx: [888, 888], ty: [58.5, 82], dx: 893, dy: 350,
    speed: "10.20±0.85 µm/min", ci: "0.61±0.05", sx: 780, sy: 285.7, c1: 842, v1: 852, c2: 845, v2: 863, ciw: 58, note: "*, p= 0.1", nx: 922.5 },
  { tracks: tracksAiv,  x: [1049, 1331.7], y: [312.7, 68],   title: ["DMSO treated", "(mixed with MK886 treated)"], tx: [1209, 1210], ty: [58, 82], dx: 1202, dy: 350,
    speed: "13.40±1.30 µm/min", ci: "0.72±0.11", sx: 1098, sy: 285.7, c1: 1160, v1: 1170, c2: 1162, v2: 1182 },
  { tracks: tracksBi,   x: [69, 349.3],    y: [777.3, 535.3], title: ["DMSO treated", "(unmixed)"], tx: [185, 185], ty: [525, 549], dx: 226.7, dy: 812,
    speed: "13.80±1.10 µm/min", ci: "0.82±0.09", sx: 118, sy: 749, c1: 180, v1: 189, c2: 180, v2: 196 },
  { tracks: tracksBii,  x: [396, 676.7],   y: [776, 529.3],  title: ["GW4869 treated", "(unmixed)"], tx: [544, 545.7], ty: [526.7, 550.7], dx: 544, dy: 810,
    speed: "9.50±1.40 µm/min", ci: "0.53±0.06", sx: 446.7, sy: 747, c1: 508, v1: 523, c2: 508, v2: 520.7 },
  { tracks: tracksBiii, x: [723.3, 1005.3], y: [772, 524],   title: ["GW4869 treated", "(mixed with DMSO treated)"], tx: [896, 896], ty: [525, 549], dx: 883, dy: 809,
    speed: "10.56±1.60 µm/min", ci: "0.68±0.08", sx: 778, sy: 743, c1: 840, v1: 850, c2: 843, v2: 860.7, ciw: 60, note: "**, p= 0.09", nx: 922 },
  { tracks: tracksBiv,  x: [1056, 1342],   y: [772, 525.3],  title: ["DMSO treated", "(mixed with GW4869 treated)"], tx: [1221.7, 1223], ty: [522, 546.7], dx: 1207, dy: 808,
    speed: "14.84±1.20 µm/min", ci: "0.75±0.11", sx: 1116, sy: 744, c1: 1177, v1: 1187, c2: 1178, v2: 1198 }
];

const svg = d3.select("#figure").append("svg")
  .attr("width", 1446).attr("height", 1222)
  .attr("viewBox", [0, 0, 1446, 1222]);

svg.append("defs").append("marker").attr("id", "arrow").attr("viewBox", "0 0 10 10")
  .attr("refX", 9).attr("refY", 5).attr("markerWidth", 16).attr("markerHeight", 12)
  .attr("markerUnits", "userSpaceOnUse").attr("orient", "auto")
  .append("path").attr("d", "M0,0L10,5L0,10Z").attr("fill", "#111");

// matlab jet
const jet = d3.scaleLinear()
  .domain([0, 5, 15, 25, 35, 40])
  .range(["#00007f", "#0000ff", "#00ffff", "#ffff00", "#ff0000", "#7f0000"])
  .clamp(true);

function label(text, x, y, size, cls, opts = {}) {
  const t = svg.append("text")
    .attr("class", cls)
    .attr("font-size", size)
    .attr("fill", opts.fill || "#222")
    .attr("font-weight", opts.weight || "normal")
    .attr("text-anchor", opts.anchor || "start")
    .text(text);
  if (opts.rotate) t.attr("transform", `translate(${x},${y}) rotate(-90)`);
  else t.attr("x", x).attr("y", y);
  return t;
}

panels.forEach(drawTrackPanel);

function drawTrackPanel(p) {
  const x = d3.scaleLinear().domain([-100, 600]).range(p.x);
  const y = d3.scaleLinear().domain([-300, 300]).range(p.y);
  const g = svg.append("g");

  const axisX = d3.axisBottom(x).tickValues(trackTicksX).tickSize(-2.5).tickSizeOuter(-2.5).tickPadding(6.5).tickFormat(d3.format("d"));
  const axisY = d3.axisLeft(y).tickValues(trackTicksY).tickSize(-2.5).tickSizeOuter(-2.5).tickPadding(3).tickFormat(d3.format("d"));
  [[axisX, `translate(0,${p.y[0]})`], [axisY, `translate(${p.x[0]},0)`]].forEach(([axis, tr]) => {
    const a = g.append("g").attr("transform", tr).call(axis);
    a.selectAll("path,line").attr("stroke", "#666").attr("stroke-width", 1.1);
    a.selectAll("text").attr("class", "arial").attr("font-size", 11.3).attr("font-weight", "bold").attr("fill", "#222");
  });

  p.tracks.forEach(track => {
    const [tEnd, ...xy] = track;
    const pts = d3.range(0, xy.length, 2).map((k, i, all) => ({ x: xy[k], y: xy[k + 1], t: i / (all.length - 1) * tEnd }));
    const tg = g.append("g");
    tg.selectAll("line").data(d3.pairs(pts)).join("line")
      .attr("x1", d => x(d[0].x)).attr("y1", d => y(d[0].y))
      .attr("x2", d => x(d[1].x)).attr("y2", d => y(d[1].y))
      .attr("stroke", d => jet(d[1].t)).attr("stroke-width", 1.05);
    tg.selectAll("circle").data(pts).join("circle")
      .attr("cx", d => x(d.x)).attr("cy", d => y(d.y)).attr("r", 1.3)
      .attr("fill", d => jet(d.t));
  });

  p.title.forEach((t, i) => label(t, p.tx[i], p.ty[i], 21.2, "arial", { anchor: "middle" }));
  label("Distance (µm)", p.dx, p.dy, 21.2, "arial", { anchor: "middle" });

  label("Speed", p.sx, p.sy, 19.5, "calibri", { weight: "bold", fill: "#111" });
  label(":", p.c1, p.sy, 17.5, "calibri");
  label(p.speed, p.v1, p.sy, 16.8, "calibri");
  const ciY = p.sy + 21;
  label("CI", p.sx, ciY, 16, "calibri", { weight: "bold", fill: "#111" });
  label(":", p.c2, ciY, 16.5, "calibri");
  const ci = label(p.ci, p.v2, ciY, 16.8, "calibri");
  if (p.ciw) ci.attr("textLength", p.ciw).attr("lengthAdjust", "spacingAndGlyphs");
  if (p.note) label(p.note, p.nx, ciY - 5, 9.5, "", { weight: "bold", fill: "#111" }).attr("font-family", "Liberation Serif");
}

// panel letters and roman numerals
[["A", 14, 32], ["B", 19, 486], ["C", 14, 905]].forEach(([t, px, py]) => label(t, px, py, 32, "calibri", { fill: "#111" }));
[["i", 59.5, 29], ["ii", 388, 32], ["iii", 716, 35], ["iv", 1038, 30],
 ["i", 68.5, 480], ["ii", 391.5, 480.5], ["iii", 714, 479], ["iv", 1057, 479]]
  .forEach(([t, px, py]) => label(t, px, py, 28, "calibri", { anchor: "middle", fill: "#222" }));

label("Distance (µm)", 37, 188, 21.2, "arial", { anchor: "middle", rotate: true });
label("Distance (µm)", 40, 628, 21.2, "arial", { anchor: "middle", rotate: true });

// along-axis arrows
[{ x0: 30, y0: 379, top: 270, right: 167, xt: 21.5, st: 388, ly: 402.5, lx: 41.5 },
 { x0: 34.7, y0: 830, top: 710, right: 173, xt: 25, st: 828.5, ly: 852.5, lx: 40 }].forEach(a => {
  svg.append("path").attr("d", `M${a.x0},${a.y0}V${a.top}`).attr("stroke", "#111").attr("stroke-width", 1.8).attr("marker-end", "url(#arrow)").attr("fill", "none");
  svg.append("path").attr("d", `M${a.x0},${a.y0}H${a.right}`).attr("stroke", "#111").attr("stroke-width", 1.8).attr("marker-end", "url(#arrow)").attr("fill", "none");
  label("Along X-axis", a.xt, a.st, 19, "calibri", { rotate: true });
  label("Along Y-axis", a.lx, a.ly, 19, "calibri");
});

// colour bars
[{ x: [1366, 1385], y0: 307, y40: 49, top: 43, bot: 315, lx: 1425, ly: 330 },
 { x: [1372.7, 1392], y0: 762.7, y40: 503, top: 497.7, bot: 769.3, lx: 1431.7, ly: 783 }].forEach(b => {
  const y = d3.scaleLinear().domain([0, 40]).range([b.y0, b.y40]);
  const steps = d3.range(Math.floor(b.top), Math.ceil(b.bot));
  svg.append("g").selectAll("rect").data(steps).join("rect")
    .attr("x", b.x[0]).attr("width", b.x[1] - b.x[0])
    .attr("y", d => d).attr("height", 1.2)
    .attr("fill", d => jet(y.invert(d)));
  svg.append("rect").attr("x", b.x[0]).attr("y", b.top).attr("width", b.x[1] - b.x[0]).attr("height", b.bot - b.top)
    .attr("fill", "none").attr("stroke", "#333").attr("stroke-width", 0.6);
  const a = svg.append("g").attr("transform", `translate(${b.x[1]},0)`)
    .call(d3.axisRight(y).tickValues(colorTicks).tickSize(0).tickPadding(3));
  a.select("path").remove();
  a.selectAll("text").attr("class", "arial").attr("font-size", 16).attr("fill", "#222");
  label("Time (min, 5 min post fMLP addition)", b.lx, b.ly, 18.7, "arial", { rotate: true });
});

// panel C frames
[[31, 924, 692, 296], [735, 922, 693, 310]].forEach(([fx, fy, fw, fh]) => {
  svg.append("rect").attr("x", fx).attr("y", fy).attr("width", fw).attr("height", fh)
    .attr("fill", "none").attr("stroke", "#222").attr("stroke-width", 2);
});

function styleAxis(a, size = 12) {
  a.selectAll("path,line").attr("stroke", "#111").attr("stroke-width", 2);
  a.selectAll("text").attr("class", "arial").attr("font-size", size).attr("font-weight", "bold").attr("fill", "#222");
}

function drawSpeedChart(c) {
  const x = d3.scaleLinear().domain([0, 65]).range(c.x);
  const y = d3.scaleLinear().domain([0, 20]).range(c.y);
  const area = d3.area().x(d => x(d.t)).y0(d => y(d.low)).y1(d => y(d.up));
  const mean = d3.line().x(d => x(d.t)).y(d => y(d.v));
  const rows = (v, up, low) => c.time.map((t, i) => ({ t, v: v[i], up: up[i], low: low[i] }));

  [{ d: rows(...c.blue), fill: "#4a85de", op: 1, line: "#1d4fd8", r: 2.1, w: 1.6 },
   { d: rows(...c.red), fill: "#e0606c", op: 0.82, line: "#b71c22", r: 2.8, w: 2 }].forEach(s => {
    svg.append("path").attr("d", area(s.d)).attr("fill", s.fill).attr("fill-opacity", s.op)
      .attr("stroke", s.line).attr("stroke-width", 0.9);
    svg.append("path").attr("d", mean(s.d)).attr("fill", "none").attr("stroke", s.line).attr("stroke-width", s.w);
    svg.append("g").selectAll("circle").data(s.d).join("circle")
      .attr("cx", d => x(d.t)).attr("cy", d => y(d.v)).attr("r", s.r).attr("fill", s.line);
  });

  styleAxis(svg.append("g").attr("transform", `translate(0,${c.y[0]})`)
    .call(d3.axisBottom(x).tickValues([0, 10, 20, 30, 40, 50, 60]).tickSize(6).tickSizeOuter(0).tickPadding(3)));
  styleAxis(svg.append("g").attr("transform", `translate(${c.x[0]},0)`)
    .call(d3.axisLeft(y).tickValues([0, 5, 10, 15, 20]).tickSize(6).tickSizeOuter(0).tickPadding(1)));

  label("Speed", c.lab[0], c.labY, 14.6, "arial", { weight: "bold", anchor: "middle", rotate: true });
  label("(µm/min)", c.lab[1], c.labY, 14, "arial", { anchor: "middle", rotate: true });
  label("mean ± SEM", c.lab[2], c.labY, 14.4, "arial", { weight: "bold", anchor: "middle", rotate: true });
  label("n=40", c.lab[3], c.labY, 14, "arial", { weight: "bold", anchor: "middle", rotate: true });
  label("Time (min)", c.tx, c.ty, 14, "arial", { weight: "bold", anchor: "middle" });

  c.legend.forEach(l => {
    svg.append("line").attr("x1", l.x[0]).attr("x2", l.x[1]).attr("y1", l.y).attr("y2", l.y)
      .attr("stroke", l.color).attr("stroke-width", 1.8);
    svg.append("circle").attr("cx", (l.x[0] + l.x[1]) / 2).attr("cy", l.y).attr("r", 2.4).attr("fill", l.color);
    label(l.name, l.tx, l.y + 4.7, 13.3, "arial", { weight: "bold" });
  });
}

function drawBars(c) {
  const y = d3.scaleLinear().domain([0, 100]).range(c.y);
  const x = d3.scaleBand().domain(c.names).range(c.x).paddingInner(0.33).paddingOuter(0);
  const colors = [{ fill: "#d96b79", stroke: "#ad1620", err: "#b71c22" }, { fill: "#4d88e6", stroke: "#14532d", err: "#1f55e0" }];
  const g = svg.append("g");
  g.selectAll("rect").data(c.names).join("rect")
    .attr("x", d => x(d)).attr("width", x.bandwidth())
    .attr("y", (d, i) => y(c.values[i])).attr("height", (d, i) => y(0) - y(c.values[i]))
    .attr("fill", (d, i) => colors[i].fill).attr("stroke", (d, i) => colors[i].stroke).attr("stroke-width", 1.8);
  c.names.forEach((n, i) => {
    const cx = x(n) + x.bandwidth() / 2;
    const hw = 13;
    const err = `M${cx - hw},${y(c.up[i])}H${cx + hw}M${cx},${y(c.up[i])}V${y(c.low[i])}M${cx - hw},${y(c.low[i])}H${cx + hw}`;
    g.append("path").attr("d", err).attr("fill", "none").attr("stroke", colors[i].err).attr("stroke-width", 1.4);
  });
  styleAxis(svg.append("g").attr("transform", `translate(${c.axisX[0]},0)`)
    .call(d3.axisLeft(y).tickValues([0, 20, 40, 60, 80, 100]).tickSize(6).tickSizeOuter(0).tickPadding(1)));
  const bottom = svg.append("g").attr("transform", `translate(0,${c.y[0]})`)
    .call(d3.axisBottom(x).tickSize(5).tickSizeOuter(0).tickPadding(4));
  bottom.select("path").remove();
  styleAxis(bottom, 13.3);
  svg.append("line").attr("x1", c.axisX[0]).attr("x2", c.axisX[1]).attr("y1", c.y[0]).attr("y2", c.y[0])
    .attr("stroke", "#111").attr("stroke-width", 2);
  label("Δα", c.lab[0], c.labY, 15, "", { anchor: "middle", rotate: true }).attr("font-family", "Liberation Serif");
  label("(degree)", c.lab[1], c.labY, 14, "arial", { weight: "bold", anchor: "middle", rotate: true });
}

drawSpeedChart({
  time: timeLeft, x: [129.3, 485], y: [1176, 941.7],
  blue: [dmsoMeanL, dmsoUpL, dmsoLowL], red: [mkMean, mkUp, mkLow],
  lab: [51.7, 68, 86, 102.7], labY: 1057, tx: 307.7, ty: 1214,
  legend: [{ name: "DMSO", x: [370, 386.7], y: 1108.7, tx: 395, color: "#1d4fd8" },
           { name: "MK886", x: [371.7, 387.7], y: 1129, tx: 396.7, color: "#b71c22" }]
});
drawSpeedChart({
  time: timeRight, x: [834, 1192.7], y: [1179.3, 942.3],
  blue: [dmsoMeanR, dmsoUpR, dmsoLowR], red: [gwMean, gwUp, gwLow],
  lab: [755, 771.7, 789, 806], labY: 1059, tx: 1013, ty: 1217,
  legend: [{ name: "DMSO", x: [1120, 1136], y: 1115, tx: 1143, color: "#1d4fd8" },
           { name: "GW4869", x: [1121.7, 1137], y: 1132, tx: 1145, color: "#b71c22" }]
});
drawBars({
  names: barNamesL, values: barValuesL, up: barUpL, low: barLowL,
  x: [568, 699], axisX: [555, 711.7], y: [1176, 941],
  lab: [494, 511.7], labY: 1057
});
drawBars({
  names: barNamesR, values: barValuesR, up: barUpR, low: barLowR,
  x: [1275, 1407], axisX: [1262, 1420], y: [1179, 942.3],
  lab: [1197, 1218], labY: 1059
});
</script>
</body>
</html>
